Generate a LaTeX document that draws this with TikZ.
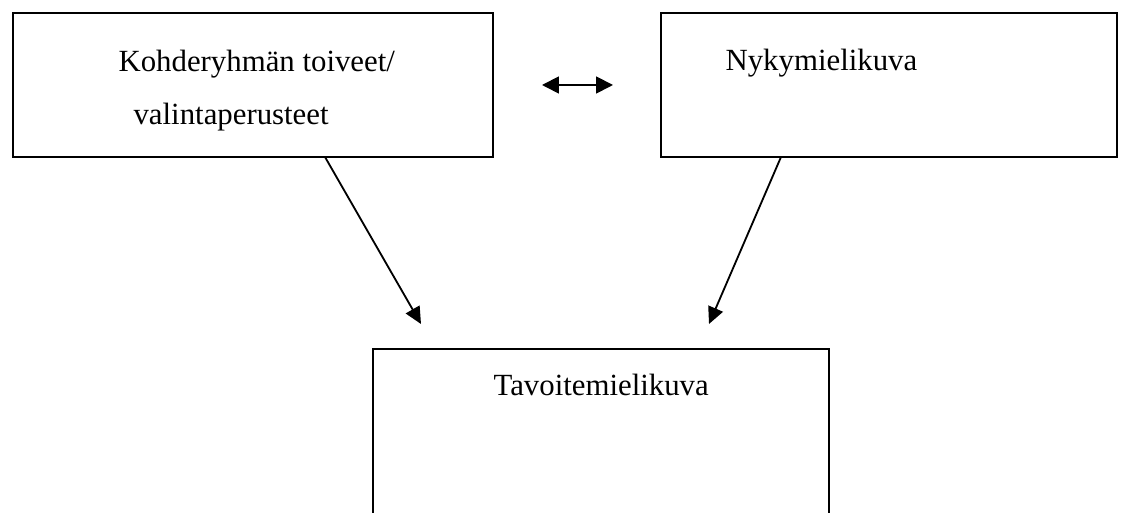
\documentclass[tikz,border=0pt]{standalone}
\usepackage{fontspec}
\setmainfont{Liberation Serif}
\usetikzlibrary{arrows.meta}
\newcommand{\px}{0.357pt}
\tikzstyle{plan} = [x=\px, y=-\px]
\tikzstyle{boxStyle} = [draw, line width=0.7pt, inner sep=0pt, outer sep=0pt, anchor=north west]
\tikzstyle{boxText} = [anchor=base west, inner sep=0pt, font=\fontsize{11}{13}\selectfont]
\tikzstyle{arrowStyle} = [line width=0.65pt, -{Triangle[length=6pt, width=5.6pt]}]
\tikzstyle{doubleArrowStyle} = [line width=0.65pt, {Triangle[length=6pt, width=6pt]}-{Triangle[length=6pt, width=6pt]}]

\begin{document}
\begin{tikzpicture}[plan]
  \useasboundingbox (0,0) rectangle (1125,513);
  \clip (0,0) rectangle (1125,513);

  % boxes
  \node [boxStyle, minimum width=480*\px, minimum height=144*\px] (wishes) at (13,13) {};
  \node [boxStyle, minimum width=456*\px, minimum height=144*\px] (current) at (661,13) {};
  \node [boxStyle, minimum width=456*\px, minimum height=220*\px] (target) at (373,349) {};

  % texts
  \node [boxText] (wishesA) at (118,72) {Kohderyhmän toiveet/};
  \node [boxText] (wishesB) at (133,125) {valintaperusteet};
  \node [boxText] (currentText) at (725,71) {Nykymielikuva};
  \node [boxText] (targetText) at (493,396) {Tavoitemielikuva};

  % arrows
  \coordinate (wishesOut) at (325,157);
  \coordinate (currentOut) at (781,157);
  \coordinate (targetInLeft) at (421,324);
  \coordinate (targetInRight) at (709,324);
  \coordinate (pairLeft) at (542,85);
  \coordinate (pairRight) at (613,85);

  \draw [doubleArrowStyle] (pairLeft) -- (pairRight);
  \draw [arrowStyle] (wishesOut) -- (targetInLeft);
  \draw [arrowStyle] (currentOut) -- (targetInRight);
\end{tikzpicture}
\end{document}
